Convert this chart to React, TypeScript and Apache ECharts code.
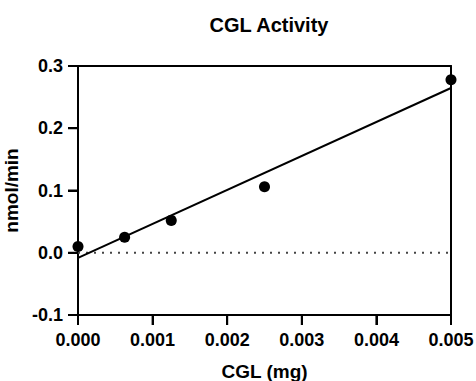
import React, { useEffect, useRef } from "react";
import * as echarts from "echarts";

const xValues = [0, 0.000625, 0.00125, 0.0025, 0.005];
const yValues = [0.01, 0.025, 0.052, 0.106, 0.278];
const xTicks = [0, 0.001, 0.002, 0.003, 0.004, 0.005];
const yTicks = [-0.1, 0, 0.1, 0.2, 0.3];

function fit(xs: number[], ys: number[]) {
  const n = xs.length;
  const mx = xs.reduce((a, b) => a + b, 0) / n;
  const my = ys.reduce((a, b) => a + b, 0) / n;
  let sxy = 0, sxx = 0;
  for (let i = 0; i < n; i++) {
    sxy += (xs[i] - mx) * (ys[i] - my);
    sxx += (xs[i] - mx) * (xs[i] - mx);
  }
  const m = sxy / sxx;
  return { m, b: my - m * mx };
}

export default function App() {
  const ref = useRef<HTMLDivElement>(null);
  useEffect(() => {
    if (!ref.current) return;
    const chart = echarts.init(ref.current, undefined, { renderer: "svg" });
    const { m, b } = fit(xValues, yValues);
    const xMin = xTicks[0];
    const xMax = xTicks[xTicks.length - 1];
    const yMin = yTicks[0];
    const yMax = yTicks[yTicks.length - 1];
    const font = "Liberation Sans, Arial, sans-serif";
    const tickLen = 10;
    chart.setOption({
      animation: false,
      title: {
        text: "CGL Activity",
        left: 264,
        top: 10,
        textAlign: "center",
        textStyle: { fontFamily: font, fontSize: 20, fontWeight: "bold", color: "#000" },
      },
      grid: { left: 78, right: 25, top: 66, bottom: 66, outerBoundsMode: "none" },
      xAxis: [
        {
          type: "value",
          position: "bottom",
          min: xMin,
          max: xMax,
          interval: 0.001,
          name: "CGL (mg)",
          nameLocation: "middle",
          nameGap: 47,
          nameTextStyle: { fontFamily: font, fontSize: 19, fontWeight: "bold", color: "#000" },
          axisLine: { show: true, onZero: false, lineStyle: { color: "#000", width: 2 } },
          axisTick: { show: true, length: tickLen, lineStyle: { color: "#000", width: 2 } },
          axisLabel: {
            margin: 16,
            fontFamily: font,
            fontSize: 18,
            fontWeight: "bold",
            color: "#000",
            formatter: (v: number) => v.toFixed(3),
          },
          splitLine: { show: false },
        },
        {
          type: "value",
          position: "top",
          min: xMin,
          max: xMax,
          axisLine: { show: true, onZero: false, lineStyle: { color: "#000", width: 2 } },
          axisTick: { show: false },
          axisLabel: { show: false },
          splitLine: { show: false },
        },
      ],
      yAxis: [
        {
          type: "value",
          position: "left",
          min: yMin,
          max: yMax,
          interval: 0.1,
          name: "nmol/min",
          nameLocation: "middle",
          nameGap: 51,
          nameRotate: 90,
          nameTextStyle: { fontFamily: font, fontSize: 19, fontWeight: "bold", color: "#000" },
          axisLine: { show: true, onZero: false, lineStyle: { color: "#000", width: 2 } },
          axisTick: { show: true, length: tickLen, lineStyle: { color: "#000", width: 2 } },
          axisLabel: {
            margin: 15,
            fontFamily: font,
            fontSize: 18,
            fontWeight: "bold",
            color: "#000",
            formatter: (v: number) => v.toFixed(1),
          },
          splitLine: { show: false },
        },
        {
          type: "value",
          position: "right",
          min: yMin,
          max: yMax,
          axisLine: { show: true, onZero: false, lineStyle: { color: "#000", width: 2 } },
          axisTick: { show: false },
          axisLabel: { show: false },
          splitLine: { show: false },
        },
      ],
      series: [
        {
          type: "line",
          data: [[xMin, 0], [xMax, 0]],
          symbol: "none",
          lineStyle: { color: "#444", width: 2, type: [2, 6] },
          silent: true,
          z: 1,
        },
        {
          type: "line",
          data: [[xMin, b + m * xMin], [xMax, b + m * xMax]],
          symbol: "none",
          lineStyle: { color: "#000", width: 2 },
          clip: false,
          z: 2,
        },
        {
          type: "scatter",
          data: xValues.map((x, i) => [x, yValues[i]]),
          symbol: "circle",
          symbolSize: 11,
          itemStyle: { color: "#000", opacity: 1 },
          clip: false,
          z: 3,
        },
      ],
    });
    // Tick marks placed through the chart's own scales
    const finder = { xAxisIndex: 0, yAxisIndex: 0 };
    const tickEls: any[] = [];
    xTicks.forEach((v) => {
      const p = chart.convertToPixel(finder, [v, yMin]) as number[];
      tickEls.push({
        type: "line",
        z: 100,
        silent: true,
        shape: { x1: p[0], y1: p[1], x2: p[0], y2: p[1] + tickLen },
        style: { stroke: "#000", lineWidth: 2 },
      });
    });
    yTicks.forEach((v) => {
      const p = chart.convertToPixel(finder, [xMin, v]) as number[];
      tickEls.push({
        type: "line",
        z: 100,
        silent: true,
        shape: { x1: p[0] - tickLen, y1: p[1], x2: p[0], y2: p[1] },
        style: { stroke: "#000", lineWidth: 2 },
      });
    });
    chart.setOption({ graphic: tickEls });
    return () => chart.dispose();
  }, []);
  return <div ref={ref} style={{ width: 476, height: 381, position: "absolute", left: 0, top: 0 }} />;
}
